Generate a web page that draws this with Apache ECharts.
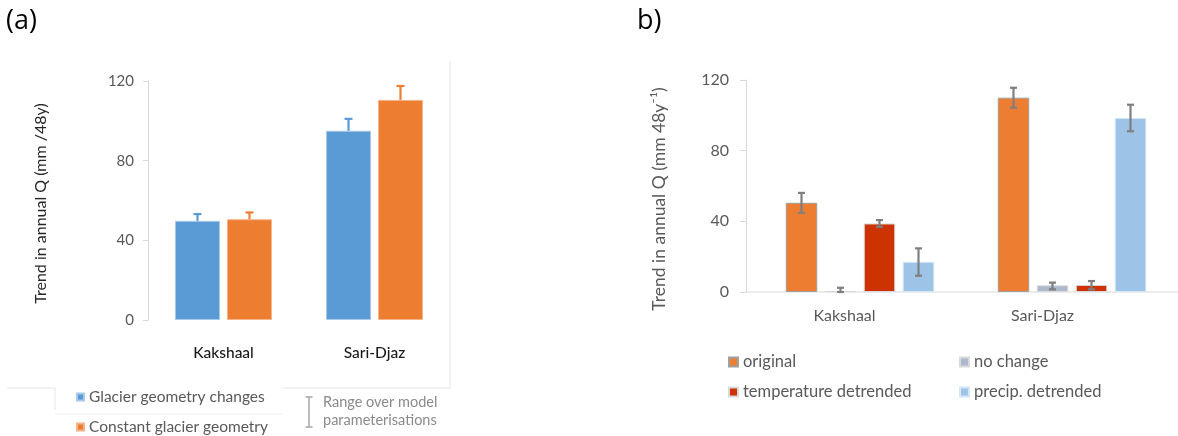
<!DOCTYPE html>
<html>
<head>
<meta charset="utf-8">
<script src="https://cdn.jsdelivr.net/npm/echarts@6/dist/echarts.min.js"></script>
<style>
  html, body { margin: 0; padding: 0; background: #fff; }
  #main { width: 1178px; height: 436px; }
</style>
</head>
<body>
<div id="main"></div>
<script>
// categories shared by both panels
var categories = ['Kakshaal', 'Sari-Djaz'];

// panel (a)
var geomChange = [49.8, 95];
var geomChangeHigh = [53.2, 101];
var constGeom = [50.6, 110.5];
var constGeomHigh = [54, 117.5];

// panel (b)
var original = [50.5, 110];
var originalLow = [44.8, 104.3];
var originalHigh = [56.1, 115.6];
var noChange = [0.5, 3.8];
var noChangeLow = [0, 1.5];
var noChangeHigh = [2.4, 5.3];
var tempDetrended = [38.8, 4.0];
var tempDetrendedLow = [36.9, 1.5];
var tempDetrendedHigh = [40.7, 6.2];
var precipDetrended = [17.1, 98.5];
var precipDetrendedLow = [9.2, 91];
var precipDetrendedHigh = [24.7, 106];

var yMin = 0, yMax = 120, yStep = 40;

var myChart = echarts.init(document.getElementById('main'));

// bar layout constants
var barWA = 45, gapA = 7;
var barWB = 31.5, gapB = 7.5;
var gridBLeft = 754, yAxisBOffset = 8;

function errorSeries(idx, offset, low, high, color, capHalf, lowCap) {
    return {
        type: 'custom',
        xAxisIndex: idx,
        yAxisIndex: idx,
        z: 5,
        silent: true,
        data: categories.map(function (c, i) { return [i, low[i], high[i]]; }),
        renderItem: function (params, api) {
            var top = api.coord([api.value(0), api.value(2)]);
            var bot = api.coord([api.value(0), api.value(1)]);
            var x = top[0] + offset;
            var st = { stroke: color, lineWidth: 2.2 };
            var kids = [
                { type: 'line', shape: { x1: x, y1: bot[1], x2: x, y2: top[1] }, style: st },
                { type: 'line', shape: { x1: x - capHalf, y1: top[1], x2: x + capHalf, y2: top[1] }, style: st }
            ];
            if (lowCap) {
                kids.push({ type: 'line', shape: { x1: x - capHalf, y1: bot[1], x2: x + capHalf, y2: bot[1] }, style: st });
            }
            return { type: 'group', children: kids };
        }
    };
}

function offB(k) { return (k - 1.5) * (barWB + gapB); }

var frame = '#e6e6e6';

option = {
    animation: false,
    textStyle: { fontFamily: 'Lato' },
    grid: [
        { left: 148, top: 81, width: 302, height: 239 },
        { left: gridBLeft, top: 80, width: 431, height: 212 }
    ],
    xAxis: [
        {
            type: 'category', gridIndex: 0, data: categories,
            axisLine: { show: false }, axisTick: { show: false },
            axisLabel: { color: '#1a1a1a', fontSize: 15.5, margin: 25, fontWeight: 500 }
        },
        {
            type: 'category', gridIndex: 1, data: categories,
            axisLine: { show: false }, axisTick: { show: false },
            axisLabel: {
                color: '#595959', fontSize: 16, margin: 16,
                formatter: function (v, i) { return '{k' + i + '|' + v + '}'; },
                rich: {
                    k0: { padding: [0, 31, 0, 0], color: '#595959', fontSize: 16 },
                    k1: { padding: [0, 59, 0, 0], color: '#595959', fontSize: 16 }
                }
            }
        }
    ],
    yAxis: [
        {
            type: 'value', gridIndex: 0, min: yMin, max: yMax, interval: yStep,
            name: 'Trend in annual Q (mm /48y)', nameLocation: 'middle', nameGap: 99,
            nameTextStyle: { color: '#262626', fontSize: 16, padding: [0, 6, 0, 0] },
            axisLine: { show: true, lineStyle: { color: '#d9d9d9' } },
            axisTick: { show: true, length: 5, lineStyle: { color: '#d9d9d9' } },
            axisLabel: { color: '#595959', fontSize: 15, margin: 14 },
            splitLine: { show: false }
        },
        {
            type: 'value', gridIndex: 1, min: yMin, max: yMax, interval: yStep,
            offset: yAxisBOffset,
            name: 'Trend in annual Q (mm 48y\u207B\u00B9)', nameLocation: 'middle', nameGap: 78,
            nameTextStyle: { color: '#595959', fontSize: 17.5, padding: [0, 26, 0, 0] },
            axisLine: { show: true, lineStyle: { color: '#d9d9d9' } },
            axisTick: { show: true, length: 6, lineStyle: { color: '#d9d9d9' } },
            axisLabel: { color: '#595959', fontSize: 16, margin: 17 },
            splitLine: { show: false }
        }
    ],
    legend: [
        {
            data: ['Glacier geometry changes'],
            left: 76, top: 389, padding: 0, selectedMode: false,
            icon: 'rect', itemWidth: 7, itemHeight: 7,
            textStyle: { color: '#595959', fontSize: 15.5, lineHeight: 16 }
        },
        {
            data: ['Constant glacier geometry'],
            left: 76, top: 419, padding: 0, selectedMode: false,
            icon: 'rect', itemWidth: 7, itemHeight: 7,
            textStyle: { color: '#595959', fontSize: 15.5, lineHeight: 16 }
        },
        {
            data: ['original', 'temperature detrended'],
            orient: 'vertical', left: 728, top: 353, height: 80, padding: 0, selectedMode: false,
            icon: 'rect', itemWidth: 9, itemHeight: 9, itemGap: 12,
            textStyle: { color: '#595959', fontSize: 16.5, lineHeight: 18 }
        },
        {
            data: ['no change', 'precip. detrended'],
            orient: 'vertical', left: 959, top: 353, height: 80, padding: 0, selectedMode: false,
            icon: 'rect', itemWidth: 9, itemHeight: 9, itemGap: 12,
            textStyle: { color: '#595959', fontSize: 16.5, lineHeight: 18 }
        }
    ],
    graphic: [
        { type: 'text', left: 6, top: 8, style: { text: '(a)', fontSize: 27, fill: '#000', fontFamily: 'Open Sans' } },
        { type: 'text', left: 637, top: 8, style: { text: 'b)', fontSize: 27, fill: '#000', fontFamily: 'Open Sans' } },
        // error-bar key in panel (a)
        { type: 'line', shape: { x1: 309, y1: 397, x2: 309, y2: 427 }, style: { stroke: '#a6a6a6', lineWidth: 1.5 } },
        { type: 'line', shape: { x1: 305.5, y1: 397, x2: 312.5, y2: 397 }, style: { stroke: '#a6a6a6', lineWidth: 1.5 } },
        { type: 'line', shape: { x1: 305.5, y1: 427, x2: 312.5, y2: 427 }, style: { stroke: '#a6a6a6', lineWidth: 1.5 } },
        { type: 'text', left: 323, top: 393, style: { text: 'Range over model\nparameterisations', fontSize: 14.5, lineHeight: 18, fill: '#8a8a8a', fontFamily: 'Lato' } },
        // faint frame remnants around panel (a)
        { type: 'polyline', shape: { points: [[450, 61], [450, 388], [282, 388]] }, style: { stroke: frame, fill: null, lineWidth: 1 } },
        { type: 'polyline', shape: { points: [[7, 388], [55, 388], [55, 410]] }, style: { stroke: frame, fill: null, lineWidth: 1 } },
        { type: 'line', shape: { x1: 55, y1: 414, x2: 282, y2: 414 }, style: { stroke: '#f0f0f0', lineWidth: 1 } }
    ],
    series: [
        {
            name: 'Glacier geometry changes', type: 'bar', xAxisIndex: 0, yAxisIndex: 0,
            data: geomChange, barWidth: barWA, barGap: (gapA / barWA * 100) + '%',
            itemStyle: { color: '#5B9BD5', borderColor: '#a9c9ea', borderWidth: 1 }
        },
        {
            name: 'Constant glacier geometry', type: 'bar', xAxisIndex: 0, yAxisIndex: 0,
            data: constGeom, barWidth: barWA,
            itemStyle: { color: '#ED7D31', borderColor: '#f5b48a', borderWidth: 1 }
        },
        errorSeries(0, -(barWA + gapA) / 2, geomChange, geomChangeHigh, '#5B9BD5', 4, false),
        errorSeries(0, (barWA + gapA) / 2, constGeom, constGeomHigh, '#ED7D31', 4, false),

        {
            name: 'original', type: 'bar', xAxisIndex: 1, yAxisIndex: 1,
            data: original, barWidth: barWB, barGap: (gapB / barWB * 100) + '%',
            itemStyle: { color: '#ED7D31', borderColor: '#a0a0a0', borderWidth: 1 }
        },
        {
            name: 'no change', type: 'bar', xAxisIndex: 1, yAxisIndex: 1,
            data: noChange, barWidth: barWB,
            itemStyle: { color: '#ADB9CA', borderColor: '#d9d9d9', borderWidth: 1 }
        },
        {
            name: 'temperature detrended', type: 'bar', xAxisIndex: 1, yAxisIndex: 1,
            data: tempDetrended, barWidth: barWB,
            itemStyle: { color: '#CC3300', borderColor: '#d9d9d9', borderWidth: 1 }
        },
        {
            name: 'precip. detrended', type: 'bar', xAxisIndex: 1, yAxisIndex: 1,
            data: precipDetrended, barWidth: barWB,
            itemStyle: { color: '#9DC3E6', borderColor: '#d6e6f5', borderWidth: 1 }
        },
        errorSeries(1, offB(0), originalLow, originalHigh, '#7f7f7f', 3.5, true),
        errorSeries(1, offB(1), noChangeLow, noChangeHigh, '#7f7f7f', 3.5, true),
        errorSeries(1, offB(2), tempDetrendedLow, tempDetrendedHigh, '#7f7f7f', 3.5, true),
        errorSeries(1, offB(3), precipDetrendedLow, precipDetrendedHigh, '#7f7f7f', 3.5, true)
    ]
};

myChart.setOption(option);

// x baseline of panel (b), from the offset y axis to the right edge
var zeroY = myChart.convertToPixel({ gridIndex: 1 }, [0, 0])[1];
myChart.setOption({
    graphic: option.graphic.concat([
        {
            type: 'line', z: 1,
            shape: { x1: gridBLeft - yAxisBOffset, y1: zeroY, x2: 1178, y2: zeroY },
            style: { stroke: '#d9d9d9', lineWidth: 1 }
        }
    ])
});
</script>
</body>
</html>
